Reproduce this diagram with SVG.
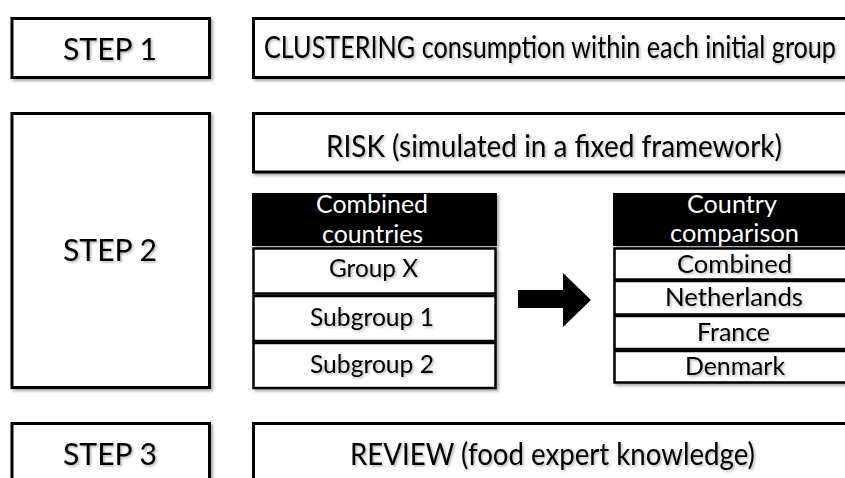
<svg xmlns="http://www.w3.org/2000/svg" width="845" height="478" viewBox="0 0 845 478">
<defs>
<filter id="bs" x="-5%" y="-5%" width="115%" height="120%"><feDropShadow dx="2" dy="2" stdDeviation="1.5" flood-color="#000" flood-opacity="0.35"/></filter>
<filter id="ts" x="-5%" y="-20%" width="115%" height="150%"><feDropShadow dx="1.5" dy="1.5" stdDeviation="1" flood-color="#000" flood-opacity="0.3"/></filter>
</defs>
<style>
.box{fill:#fff;stroke:#000;stroke-width:3;filter:url(#bs)}
.row{fill:#fff;stroke:#000;stroke-width:2.5}
.hdr{fill:#000}
text{font-family:Lato,"Open Sans","Liberation Sans",sans-serif;text-anchor:middle;fill:#000;filter:url(#ts)}
.step{font-size:31px}
.big{font-size:30px}
.cell{font-size:25px}
.wt{fill:#fff;filter:none}
</style>
<rect width="845" height="478" fill="#fff"/>
<g id="step1">
<rect class="box" x="12" y="18.5" width="197.5" height="59"/>
<text class="step" x="110" y="60" textLength="94" lengthAdjust="spacingAndGlyphs">STEP 1</text>
</g>
<g id="clustering">
<rect class="box" x="253.5" y="18.5" width="620" height="59"/>
<text class="big" x="550" y="58" textLength="572" lengthAdjust="spacingAndGlyphs">CLUSTERING consumption within each initial group</text>
</g>
<g id="step2">
<rect class="box" x="12" y="113.5" width="197.5" height="274"/>
<text class="step" x="110" y="261" textLength="94" lengthAdjust="spacingAndGlyphs">STEP 2</text>
</g>
<g id="risk">
<rect class="box" x="253.5" y="113.5" width="620" height="58.5"/>
<text class="big" x="554" y="157" textLength="456" lengthAdjust="spacingAndGlyphs">RISK (simulated in a fixed framework)</text>
</g>
<g id="combined-countries">
<g filter="url(#bs)">
<rect class="hdr" x="252" y="193" width="245" height="53"/>
<rect class="row" x="253.5" y="248.5" width="242" height="45"/>
<rect class="row" x="253.5" y="296" width="242" height="45"/>
<rect class="row" x="253.5" y="343" width="242" height="45"/>
</g>
<text class="cell wt" x="372" y="213" textLength="112" lengthAdjust="spacingAndGlyphs">Combined</text>
<text class="cell wt" x="372.5" y="243" textLength="101" lengthAdjust="spacingAndGlyphs">countries</text>
<text class="cell" x="373.5" y="277" textLength="89" lengthAdjust="spacingAndGlyphs">Group X</text>
<text class="cell" x="372" y="326" textLength="124" lengthAdjust="spacingAndGlyphs">Subgroup 1</text>
<text class="cell" x="372" y="373" textLength="124" lengthAdjust="spacingAndGlyphs">Subgroup 2</text>
</g>
<g id="country-comparison">
<g filter="url(#bs)">
<rect class="hdr" x="613" y="193" width="250" height="53"/>
<rect class="row" x="614.5" y="248.5" width="250" height="31"/>
<rect class="row" x="614.5" y="281" width="250" height="33.5"/>
<rect class="row" x="614.5" y="316" width="250" height="33"/>
<rect class="row" x="614.5" y="351" width="250" height="31.5"/>
</g>
<text class="cell wt" x="732" y="213" textLength="90" lengthAdjust="spacingAndGlyphs">Country</text>
<text class="cell wt" x="734.5" y="242" textLength="129" lengthAdjust="spacingAndGlyphs">comparison</text>
<text class="cell" x="734.5" y="273" textLength="115" lengthAdjust="spacingAndGlyphs">Combined</text>
<text class="cell" x="734" y="306" textLength="138" lengthAdjust="spacingAndGlyphs">Netherlands</text>
<text class="cell" x="733.5" y="341" textLength="73" lengthAdjust="spacingAndGlyphs">France</text>
<text class="cell" x="735" y="375" textLength="100" lengthAdjust="spacingAndGlyphs">Denmark</text>
</g>
<g id="connectors">
<polygon points="518,290 563,290 563,273 591,300 563,327 563,308 518,308" fill="#000"/>
</g>
<g id="step3">
<rect class="box" x="12" y="423.5" width="197.5" height="80"/>
<text class="step" x="110" y="465" textLength="94" lengthAdjust="spacingAndGlyphs">STEP 3</text>
</g>
<g id="review">
<rect class="box" x="253.5" y="423.5" width="620" height="80"/>
<text class="big" x="552.5" y="465" textLength="405" lengthAdjust="spacingAndGlyphs">REVIEW (food expert knowledge)</text>
</g>
</svg>
